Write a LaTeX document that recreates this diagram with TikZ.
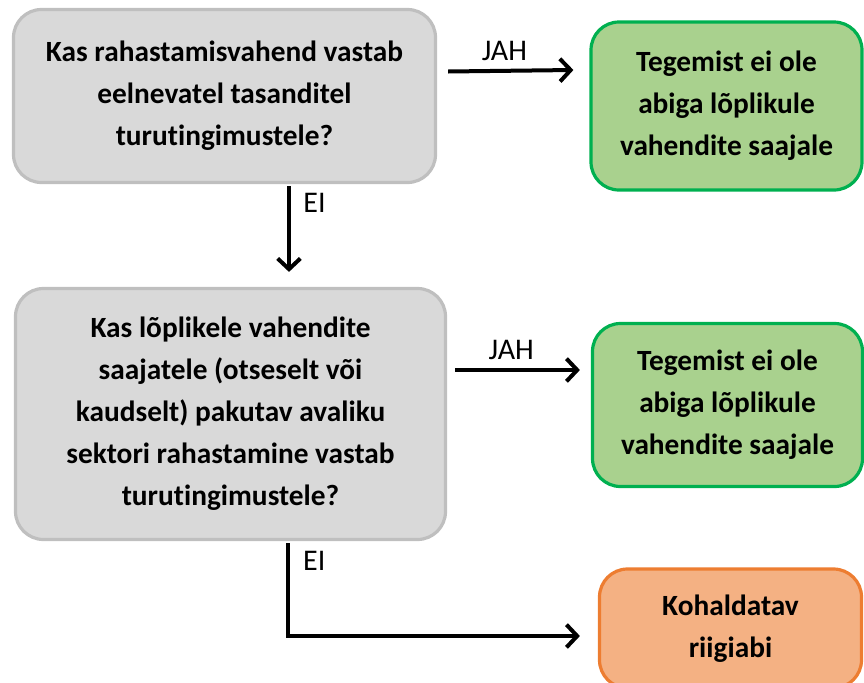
\documentclass[tikz,border=0pt]{standalone}
\usepackage{fontspec}
\setmainfont[Ligatures=NoCommon]{Carlito}
\usetikzlibrary{arrows.meta}
\definecolor{qfill}{HTML}{D9D9D9}
\definecolor{qline}{HTML}{BFBFBF}
\definecolor{afill}{HTML}{A9D18E}
\definecolor{aline}{HTML}{00B050}
\definecolor{ofill}{HTML}{F4B183}
\definecolor{oline}{HTML}{ED7D31}

\begin{document}
\begin{tikzpicture}[x=0.75pt,y=-0.75pt]
\tikzset{box/.style={rounded corners=21pt,line width=2.4pt,align=center,
    font=\fontsize{22}{31.5}\selectfont\bfseries,inner sep=0pt},
  qbox/.style={box,draw=qline,fill=qfill},
  abox/.style={box,draw=aline,fill=afill},
  obox/.style={box,draw=oline,fill=ofill},
  arr/.style={line width=3pt,-{Straight Barb[length=8pt,width=17pt]}},
  lbl/.style={font=\fontsize{22.5}{26}\selectfont}}
\clip (0,0) rectangle (864,682);

\node[qbox,minimum width=422pt*0.75,minimum height=173pt*0.75] (q1) at (224.5,96)
  {Kas rahastamisvahend vastab\\eelnevatel tasanditel\\turutingimustele?};
\node[abox,minimum width=271pt*0.75,minimum height=168pt*0.75] (a1) at (726.5,106)
  {Tegemist ei ole\\abiga lõplikule\\vahendite saajale};
\node[qbox,minimum width=430pt*0.75,minimum height=251pt*0.75] (q2) at (230.5,414)
  {Kas lõplikele vahendite\\saajatele (otseselt või\\kaudselt) pakutav avaliku\\sektori rahastamine vastab\\turutingimustele?};
\node[abox,minimum width=270pt*0.75,minimum height=163pt*0.75] (a2) at (727.5,405)
  {Tegemist ei ole\\abiga lõplikule\\vahendite saajale};
\node[obox,minimum width=262pt*0.75,minimum height=119pt*0.75] (o1) at (730.5,628.5)
  {Kohaldatav\\riigiabi};

\draw[arr] ([shift={(11,-24.5)}]q1.east) -- ([shift={(-16,-36)}]a1.west)
  node[lbl,pos=0.45,above=3pt] (j1) {JAH};
\draw[arr] ([shift={(64.5,2)}]q1.south) -- ([shift={(58.5,-15)}]q2.north)
  node[lbl,pos=0.2,right=6pt] (e1) {EI};
\draw[arr] ([shift={(8,-44)}]q2.east) -- ([shift={(-11,-35)}]a2.west)
  node[lbl,pos=0.45,above=3pt] (j2) {JAH};
\draw[arr] ([shift={(57.5,2)}]q2.south) |- ([shift={(-18,7.5)}]o1.west);
\node[lbl,anchor=west] (e2) at ([shift={(68,20)}]q2.south) {EI};
\end{tikzpicture}
\end{document}
